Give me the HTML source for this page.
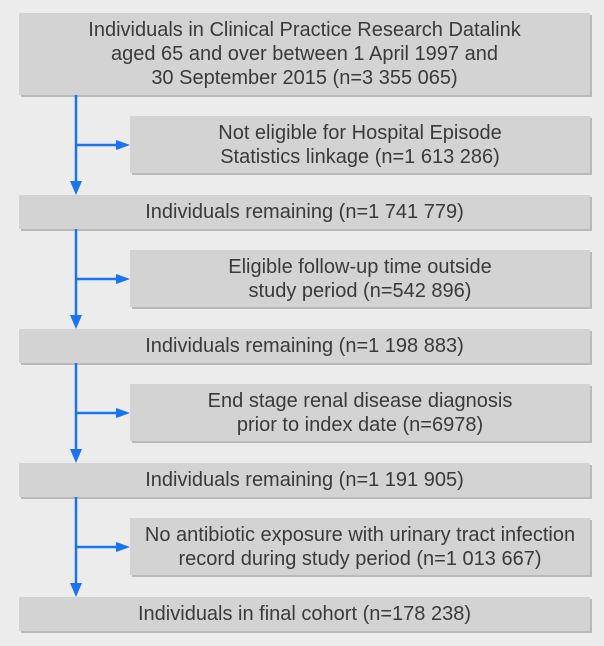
<!DOCTYPE html>
<html><head><style>
body{margin:0;background:#ececec;width:604px;height:646px;position:relative;overflow:hidden;font-family:"Liberation Sans",sans-serif;}
.b{position:absolute;background:#d3d3d3;box-shadow:2px 2px 0 #b9b9b9;color:#3a3a3a;font-size:20px;line-height:24px;text-align:center;display:flex;align-items:center;justify-content:center;white-space:nowrap;}
svg{position:absolute;left:0;top:0;}
</style></head><body>
<div class="b" style="left:19px;top:13px;width:571px;height:82px;">Individuals in Clinical Practice Research Datalink<br>aged 65 and over between 1 April 1997 and<br>30 September 2015 (n=3 355 065)</div>
<div class="b" style="left:130px;top:116px;width:460px;height:57px;">Not eligible for Hospital Episode<br>Statistics linkage (n=1 613 286)</div>
<div class="b" style="left:19px;top:195px;width:571px;height:34px;">Individuals remaining (n=1 741 779)</div>
<div class="b" style="left:130px;top:250px;width:460px;height:57px;">Eligible follow-up time outside<br>study period (n=542 896)</div>
<div class="b" style="left:19px;top:329px;width:571px;height:34px;">Individuals remaining (n=1 198 883)</div>
<div class="b" style="left:130px;top:384px;width:460px;height:57px;">End stage renal disease diagnosis<br>prior to index date (n=6978)</div>
<div class="b" style="left:19px;top:463px;width:571px;height:34px;">Individuals remaining (n=1 191 905)</div>
<div class="b" style="left:130px;top:518px;width:460px;height:57px;">No antibiotic exposure with urinary tract infection<br>record during study period (n=1 013 667)</div>
<div class="b" style="left:19px;top:597px;width:571px;height:34px;">Individuals in final cohort (n=178 238)</div>
<svg width="604" height="646">
<g stroke="#1a73f0" stroke-width="2.5" fill="none">
<line x1="76" y1="95" x2="76" y2="183"/><line x1="76" y1="145" x2="118" y2="145"/>
<line x1="76" y1="229" x2="76" y2="317"/><line x1="76" y1="279" x2="118" y2="279"/>
<line x1="76" y1="363" x2="76" y2="451"/><line x1="76" y1="413" x2="118" y2="413"/>
<line x1="76" y1="497" x2="76" y2="585"/><line x1="76" y1="547" x2="118" y2="547"/>
</g>
<g fill="#1a73f0">
<polygon points="70,181 82,181 76,195"/><polygon points="116,140 116,150 130,145"/>
<polygon points="70,315 82,315 76,329"/><polygon points="116,274 116,284 130,279"/>
<polygon points="70,449 82,449 76,463"/><polygon points="116,408 116,418 130,413"/>
<polygon points="70,583 82,583 76,597"/><polygon points="116,542 116,552 130,547"/>
</g>
</svg>
</body></html>
